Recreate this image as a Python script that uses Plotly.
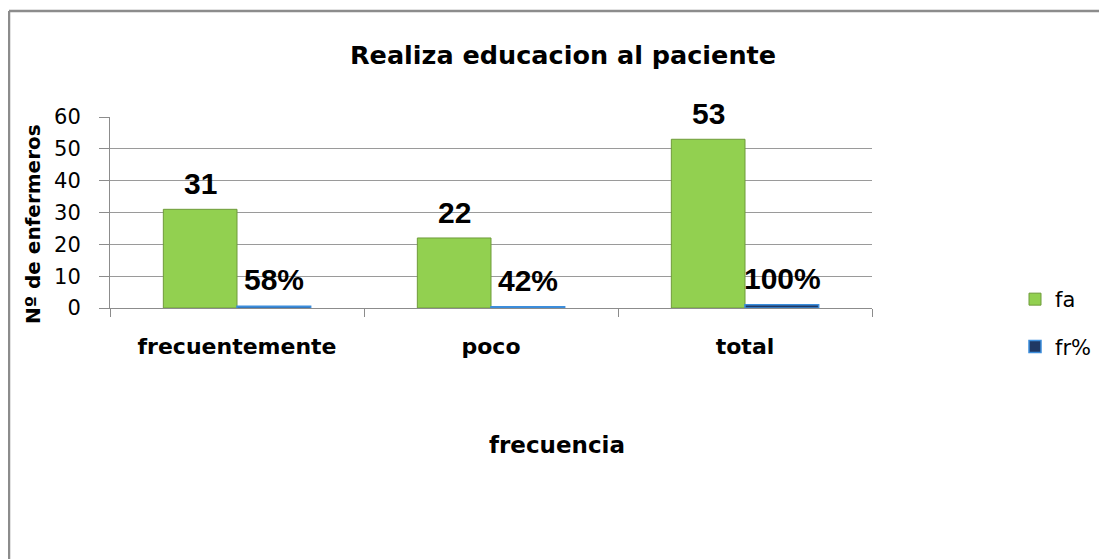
import plotly.graph_objects as go

# data
categorias = ["frecuentemente", "poco", "total"]
fa = [31, 22, 53]
fr_pct = [58, 42, 100]
fr = [v / 100 for v in fr_pct]

OFF = 8  # page body margin
W, H = 1107 - OFF, 559
L, R, T, B = 110 - OFF, W - (872 - OFF), 117 - OFF, H - (308 - OFF)
pw, ph = W - L - R, H - T - B


# screen pixel -> paper coords
def px_x(px):
    return (px - OFF - L) / pw


def px_y(py):
    return (H - B - (py - OFF)) / ph


fig = go.Figure()
fig.add_trace(go.Bar(
    x=categorias, y=fa, name="fa", legendgroup="fa",
    marker=dict(color="#92D050", line=dict(color="#6F9B3A", width=1)),
))
fig.add_trace(go.Bar(
    x=categorias, y=fr, name="fr%", legendgroup="fr",
    marker=dict(color="#1F3864", line=dict(color="#3C8DDB", width=1.5)),
))

lab_font = dict(family="Liberation Sans", size=30, color="#000000")
for c, v in zip(categorias, fa):
    fig.add_annotation(x=c, y=v, text=f"<b>{v}</b>", showarrow=False,
                       xshift=-37, yshift=7, xanchor="center", yanchor="bottom", font=lab_font)
for c, v, p in zip(categorias, fr, fr_pct):
    fig.add_annotation(x=c, y=v, text=f"<b>{p}%</b>", showarrow=False,
                       xshift=37, yshift=8, xanchor="center", yanchor="bottom", font=lab_font)

# axis titles
fig.add_annotation(x=px_x(557), y=px_y(445), xref="paper", yref="paper",
                   xanchor="center", yanchor="middle",
                   text="<b>frecuencia</b>", showarrow=False,
                   font=dict(family="DejaVu Sans", size=23, color="#000"))
fig.add_annotation(x=px_x(33), y=px_y(224), xref="paper", yref="paper",
                   xanchor="center", yanchor="middle",
                   text="<b>Nº de enfermeros</b>", showarrow=False, textangle=-90,
                   font=dict(family="DejaVu Sans", size=20, color="#000"))

# chart frame
frame = dict(color="#8C8C8C", width=2.5)
fig.add_shape(type="line", xref="paper", yref="paper",
              x0=px_x(9), x1=px_x(9), y0=px_y(11), y1=px_y(620), line=frame)
fig.add_shape(type="line", xref="paper", yref="paper",
              x0=px_x(9), x1=px_x(1150), y0=px_y(11), y1=px_y(11), line=frame)

fig.update_layout(
    width=W, height=H,
    margin=dict(l=L, r=R, t=T, b=B, autoexpand=False),
    paper_bgcolor="white", plot_bgcolor="white",
    barmode="group", bargap=0.42, bargroupgap=0,
    title=dict(text="<b>Realiza educacion al paciente</b>", x=(563 - OFF) / W, xanchor="center",
               y=1 - (55 - OFF) / H, yanchor="middle",
               font=dict(family="DejaVu Sans", size=25.5, color="#000")),
    legend=dict(xref="container", yref="container",
                x=(1015 - OFF) / W, y=1 - (279 - OFF) / H, xanchor="left", yanchor="top",
                font=dict(family="DejaVu Sans", size=21, color="#000"),
                tracegroupgap=17, bgcolor="rgba(0,0,0,0)"),
    showlegend=True,
)
fig.update_xaxes(
    showline=True, linecolor="#8C8C8C", linewidth=1,
    ticks="outside", tickson="boundaries", ticklen=8, tickcolor="#8C8C8C",
    tickfont=dict(family="DejaVu Sans", size=22, color="#000"),
    ticklabelstandoff=19,
)
fig.update_xaxes(tickvals=categorias, ticktext=[f"<b>{c}</b>" for c in categorias])
fig.update_yaxes(
    range=[0, 60], dtick=10,
    showgrid=True, gridcolor="#9A9A9A", gridwidth=1, zeroline=False,
    showline=True, linecolor="#8C8C8C", linewidth=1,
    ticks="outside", ticklen=10, tickcolor="#8C8C8C",
    tickfont=dict(family="DejaVu Sans", size=21, color="#000"),
    ticklabelstandoff=14,
)

fig.write_html("out.html")
